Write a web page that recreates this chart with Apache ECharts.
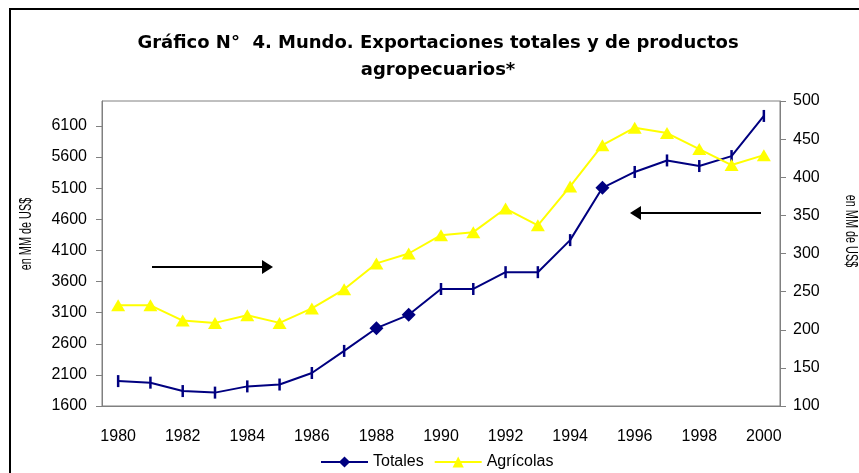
<!DOCTYPE html>
<html>
<head>
<meta charset="utf-8">
<title>Gráfico N° 4</title>
<script src="https://cdn.jsdelivr.net/npm/echarts@6/dist/echarts.min.js"></script>
<style>
  html, body { margin: 0; padding: 0; background: #fff; }
  #chart { width: 859px; height: 473px; }
</style>
</head>
<body>
<div id="chart"></div>
<script>
// datos
const years = ['1980', '1981', '1982', '1983', '1984', '1985', '1986', '1987', '1988', '1989', '1990',
  '1991', '1992', '1993', '1994', '1995', '1996', '1997', '1998', '1999', '2000']
const totales = [2000, 1975, 1840, 1815, 1915, 1945, 2130, 2485, 2850, 3065, 3480,
  3480, 3750, 3750, 4265, 5105, 5360, 5545, 5455, 5615, 6260]
const agricolas = [232, 232, 212, 209, 219, 209, 228, 253, 287, 300, 324,
  328, 359, 337, 388, 442, 465, 458, 437, 416, 429]
// años donde la serie de totales conserva el rombo
const diamondYears = ['1988', '1989', '1995']

const font = 'Liberation Sans, Arial, sans-serif'
const chart = echarts.init(document.getElementById('chart'))

const totalesData = totales.map((v, i) => {
  if (diamondYears.includes(years[i])) return { value: v }
  return { value: v, symbol: 'rect', symbolSize: [2.5, 12] }
})

const option = {
  backgroundColor: '#fff',
  animation: false,
  title: {
    text: 'Gráfico N°  4. Mundo. Exportaciones totales y de productos\nagropecuarios*',
    left: 438,
    top: 30,
    padding: 0,
    textAlign: 'center',
    textStyle: { fontFamily: 'DejaVu Sans, Verdana, sans-serif', fontSize: 18, fontWeight: 'bold', color: '#000', lineHeight: 27 }
  },
  legend: {
    left: 315,
    top: 449,
    itemWidth: 47,
    itemHeight: 14,
    itemGap: 10,
    textStyle: { fontFamily: font, fontSize: 16, color: '#000' },
    data: ['Totales', 'Agrícolas']
  },
  grid: {
    left: 102, right: 79, top: 101, bottom: 67,
    show: true, borderColor: '#808080', borderWidth: 1
  },
  xAxis: {
    type: 'category',
    data: years,
    boundaryGap: true,
    axisLine: { lineStyle: { color: '#808080', width: 1 } },
    axisTick: { interval: 0, length: 6, lineStyle: { color: '#808080' } },
    axisLabel: { interval: 1, margin: 23, fontFamily: font, fontSize: 16, color: '#000' },
    splitLine: { show: false }
  },
  yAxis: [
    {
      type: 'value',
      min: 1600, max: 6500, interval: 500,
      axisLine: { show: true, lineStyle: { color: '#808080' } },
      axisTick: { show: true, length: 6, lineStyle: { color: '#808080' } },
      axisLabel: { margin: 15, showMaxLabel: false, formatter: v => String(v), fontFamily: font, fontSize: 16, color: '#000' },
      splitLine: { show: false }
    },
    {
      type: 'value',
      position: 'right',
      min: 100, max: 500, interval: 50,
      axisLine: { show: true, lineStyle: { color: '#808080' } },
      axisTick: { show: true, length: 6, lineStyle: { color: '#808080' } },
      axisLabel: { margin: 13, fontFamily: font, fontSize: 16, color: '#000' },
      splitLine: { show: false }
    }
  ],
  series: [
    {
      name: 'Totales',
      type: 'line',
      yAxisIndex: 0,
      data: totalesData,
      symbol: 'diamond',
      symbolSize: 14,
      showAllSymbol: true,
      color: '#000080',
      lineStyle: { color: '#000080', width: 2 },
      itemStyle: { color: '#000080' }
    },
    {
      name: 'Agrícolas',
      type: 'line',
      yAxisIndex: 1,
      data: agricolas,
      symbol: 'triangle',
      symbolSize: [14, 12],
      showAllSymbol: true,
      color: '#ffff00',
      lineStyle: { color: '#ffff00', width: 2 },
      itemStyle: { color: '#ffff00' }
    }
  ],
  graphic: [
    // marco exterior
    { type: 'rect', shape: { x: 10, y: 9, width: 900, height: 500 },
      style: { fill: null, stroke: '#000', lineWidth: 2 }, silent: true },
    // nombres de los ejes (texto comprimido como en el original)
    { type: 'text', x: 27, y: 234, rotation: Math.PI / 2, scaleX: 0.68,
      style: { text: 'en MM de US$', fontFamily: font, fontSize: 16, fill: '#000', align: 'center', verticalAlign: 'middle' } },
    { type: 'text', x: 850, y: 231, rotation: -Math.PI / 2, scaleX: 0.68,
      style: { text: 'en MM de US$', fontFamily: font, fontSize: 16, fill: '#000', align: 'center', verticalAlign: 'middle' } },
    // flechas
    { type: 'line', shape: { x1: 152, y1: 267, x2: 263, y2: 267 }, style: { stroke: '#000', lineWidth: 2 } },
    { type: 'polygon', shape: { points: [[262, 260], [273, 267], [262, 274]] }, style: { fill: '#000' } },
    { type: 'line', shape: { x1: 640, y1: 213, x2: 761, y2: 213 }, style: { stroke: '#000', lineWidth: 2 } },
    { type: 'polygon', shape: { points: [[641, 206], [630, 213], [641, 220]] }, style: { fill: '#000' } }
  ]
}

chart.setOption(option)
</script>
</body>
</html>
